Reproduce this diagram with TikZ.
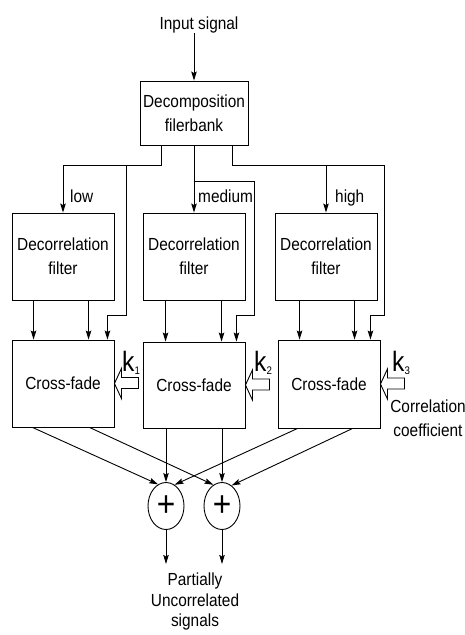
\documentclass[tikz,border=0pt]{standalone}
\usepackage{fontspec}
\setmainfont{Liberation Sans}[FakeStretch=0.88]
\usetikzlibrary{arrows.meta,shapes.geometric}
\tikzset{
  x=1pt,y=-1pt,
  every node/.style={font=\fontsize{17.5}{24}\selectfont},
  conn/.style={line width=0.9pt},
  arr/.style={conn,-{Stealth[length=9pt,width=5.5pt,inset=1.5pt]}},
  blk/.style={draw,line width=0.9pt,minimum width=102pt,minimum height=87pt,inner sep=0pt,align=center},
  sumnode/.style={draw,line width=0.9pt,ellipse,minimum width=36pt,minimum height=47pt,inner sep=0pt},
  klabel/.style={anchor=base west,inner sep=0pt,font=\fontsize{28}{28}\selectfont},
  hollowarr/.pic={\draw[line width=0.9pt,line join=miter] (0,0) -- (7,-15) -- (7,-6) -- (24,-6) -- (24,5) -- (7,5) -- (7,15) -- cycle;}
}
\newcommand{\ksub}[1]{\raisebox{-3pt}{\fontsize{11}{11}\selectfont #1}}
\begin{document}
\begin{tikzpicture}
\useasboundingbox (0,0) rectangle (465,635);
% texts
\node[anchor=base,inner sep=0pt] (in) at (199,29) {Input signal};
% decomposition
\node[blk,minimum width=108pt,minimum height=64pt] (dec) at (194,113) {Decomposition\\filerbank};
% decorrelation filters
\node[blk] (dlo) at (63,256.5) {Decorrelation\\filter};
\node[blk] (dmid) at (194,256.5) {Decorrelation\\filter};
\node[blk] (dhi) at (326,256.5) {Decorrelation\\filter};
% cross-fades
\node[blk,minimum height=87pt] (clo) at (63,383.5) {Cross-fade};
\node[blk,minimum height=86pt] (cmid) at (194,385) {Cross-fade};
\node[blk,minimum height=88pt] (chi) at (329,384) {Cross-fade};
% sums
\node[sumnode] (p1) at (166,506) {};
\node[sumnode] (p2) at (222,506) {};
\node[inner sep=0pt,font=\fontsize{36}{36}\selectfont] (p1t) at (p1) {+};
\node[inner sep=0pt,font=\fontsize{36}{36}\selectfont] (p2t) at (p2) {+};
% labels
\node[anchor=base west,inner sep=0pt] (llow) at (70,202) {low};
\node[anchor=base west,inner sep=0pt] (lmed) at (198,202) {medium};
\node[anchor=base west,inner sep=0pt] (lhigh) at (335,202) {high};
\node[klabel] (k1) at (122,371) {k\ksub{1}};
\node[klabel] (k2) at (254,371) {k\ksub{2}};
\node[klabel] (k3) at (392,371) {k\ksub{3}};
\node[inner sep=0pt,align=center] (corr) at (428,418.5) {Correlation\\coefficient};
\node[anchor=north,inner sep=0pt,align=center,font=\fontsize{17.5}{20.5}\selectfont] (out) at (195,573) {Partially\\Uncorrelated\\signals};
% input arrow
\draw[arr] (in.south -| dec.north) -- (dec.north);
% branches from decomposition
\draw[arr] ([xshift=22pt]dec.south west) -- ++(0,20) -| (dlo.north);
\draw[arr] (126,165) -- (126,315) -| ([xshift=-7pt]clo.north east);
\draw[arr] (dec.south) -- (dmid.north);
\draw[arr] (194,181) -- (254,181) -- (254,315) -| ([xshift=-9pt]cmid.north east);
\draw[arr] ([xshift=-16pt]dec.south east) -- ++(0,20) -| (dhi.north);
\draw[arr] (326,165) -- (384,165) -- (384,315) -| ([xshift=-10pt]chi.north east);
% decorrelation to cross-fade
\draw[arr] ([xshift=22pt]dlo.south west) -- ([xshift=22pt]dlo.south west |- clo.north);
\draw[arr] ([xshift=77pt]dlo.south west) -- ([xshift=77pt]dlo.south west |- clo.north);
\draw[arr] ([xshift=23pt]dmid.south west) -- ([xshift=23pt]dmid.south west |- cmid.north);
\draw[arr] ([xshift=79pt]dmid.south west) -- ([xshift=79pt]dmid.south west |- cmid.north);
\draw[arr] ([xshift=25pt]dhi.south west) -- ([xshift=25pt]dhi.south west |- chi.north);
\draw[arr] ([xshift=80pt]dhi.south west) -- ([xshift=80pt]dhi.south west |- chi.north);
% hollow arrows
\pic at (clo.east) {hollowarr};
\pic at (cmid.east) {hollowarr};
\pic at (chi.east) {hollowarr};
% cross-fade to sums
\draw[arr] ([xshift=21pt]clo.south west) -- (p1.110);
\draw[arr] ([xshift=78pt]clo.south west) -- (p2.112);
\draw[arr] (cmid.south -| p1) -- (p1.north);
\draw[arr] (cmid.south -| p2) -- (p2.north);
\draw[arr] ([xshift=20pt]chi.south west) -- (p1.68);
\draw[arr] ([xshift=75pt]chi.south west) -- (p2.65);
% outputs
\draw[arr] (p1.south) -- ++(0,34);
\draw[arr] (p2.south) -- ++(0,34);
\end{tikzpicture}
\end{document}
